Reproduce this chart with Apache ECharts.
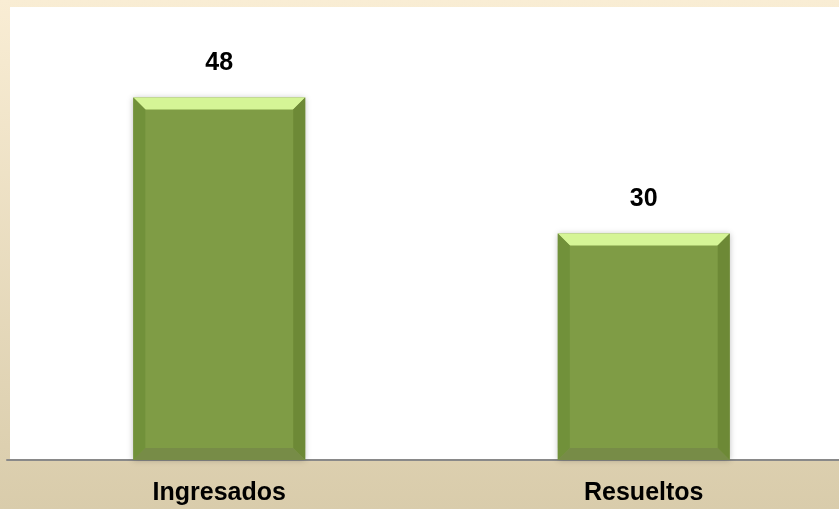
<!DOCTYPE html>
<html>
<head>
<meta charset="utf-8">
<script src="https://cdn.jsdelivr.net/npm/echarts@6/dist/echarts.min.js"></script>
<style>
    html, body { margin: 0; padding: 0; overflow: hidden; }
    /* the plot runs slightly past the right edge in the original */
    #chart { width: 856px; height: 509px; }
</style>
</head>
<body>
<div id="chart"></div>
<script>
var categories = ['Ingresados', 'Resueltos'];
var values = [48, 30];

var chart = echarts.init(document.getElementById('chart'), null, { renderer: 'canvas' });

// bar with a beveled frame, drawn from the axis coords
var renderBevelBar = function (params, api) {
    var val = api.value(1);
    var top = api.coord([api.value(0), val]);
    var base = api.coord([api.value(0), 0]);
    var w = api.size([1, 0])[0] * 0.405;
    var x0 = top[0] - w / 2, x1 = top[0] + w / 2;
    var y0 = top[1], y1 = base[1];
    var b = 12;
    return {
        type: 'group',
        children: [
            { type: 'rect', shape: { x: x0, y: y0, width: w, height: y1 - y0 },
              style: { fill: '#7f9c45', shadowBlur: 6, shadowColor: 'rgba(0,0,0,0.25)' } },
            { type: 'polygon', shape: { points: [[x0, y0], [x1, y0], [x1 - b, y0 + b], [x0 + b, y0 + b]] },
              style: { fill: '#d5f596' } },
            { type: 'polygon', shape: { points: [[x0, y0], [x0 + b, y0 + b], [x0 + b, y1 - b], [x0, y1]] },
              style: { fill: '#71913a' } },
            { type: 'polygon', shape: { points: [[x1, y0], [x1, y1], [x1 - b, y1 - b], [x1 - b, y0 + b]] },
              style: { fill: '#6d8936' } },
            { type: 'polygon', shape: { points: [[x0, y1], [x0 + b, y1 - b], [x1 - b, y1 - b], [x1, y1]] },
              style: { fill: '#778c47' } },
            { type: 'text', x: top[0], y: y0 - 22,
              style: { text: String(val), fill: '#000', font: 'bold 25px "Liberation Sans", Arial, sans-serif',
                       align: 'center', verticalAlign: 'bottom' } }
        ]
    };
};

var option = {
    animation: false,
    backgroundColor: {
        type: 'linear', x: 0, y: 0, x2: 0, y2: 1,
        colorStops: [
            { offset: 0, color: '#f9edd4' },
            { offset: 1, color: '#d9ccab' }
        ]
    },
    graphic: [{
        type: 'rect', z: -1, silent: true,
        shape: { x: 10, y: 7, width: 846, height: 453 },
        style: { fill: '#ffffff' }
    }],
    grid: { left: 7, top: 7, right: 0, bottom: 49 },
    xAxis: {
        type: 'category',
        data: categories,
        axisLine: { lineStyle: { color: '#898989', width: 2 } },
        axisTick: { show: false },
        axisLabel: {
            color: '#000',
            fontSize: 25,
            fontWeight: 'bold',
            fontFamily: '"Liberation Sans", Arial, sans-serif',
            margin: 21
        }
    },
    yAxis: {
        type: 'value',
        min: 0,
        max: 60,
        show: false,
        splitLine: { show: false }
    },
    series: [{
        type: 'custom',
        renderItem: renderBevelBar,
        data: categories.map(function (c, i) { return [i, values[i]]; }),
        z: 2
    }]
};

chart.setOption(option);
</script>
</body>
</html>
